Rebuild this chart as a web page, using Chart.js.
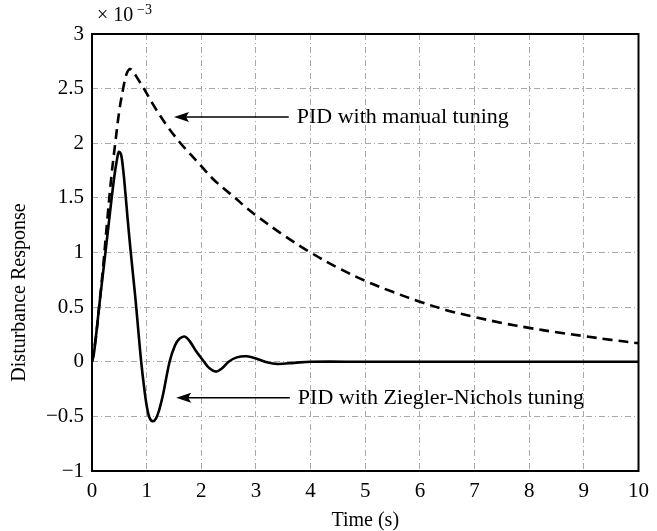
<!DOCTYPE html>
<html>
<head>
<meta charset="utf-8">
<script src="https://cdn.jsdelivr.net/npm/chart.js@4/dist/chart.umd.min.js"></script>
<style>
  html, body { margin: 0; padding: 0; background: #fff; }
  canvas { display: block; }
</style>
</head>
<body>
<canvas id="chart" width="657" height="531"></canvas>
<script>
// Disturbance response (x 10^-3)

// PID with Ziegler-Nichols tuning (solid)
const znTime = [0, 0.03, 0.07, 0.13, 0.19, 0.25, 0.31, 0.36, 0.41, 0.45, 0.49, 0.53, 0.57, 0.61, 0.65, 0.7, 0.75, 0.8, 0.85, 0.9,
  0.95, 1.0, 1.05, 1.11, 1.17, 1.23, 1.3, 1.42, 1.52, 1.6, 1.7, 1.8, 1.9, 2.05, 2.15, 2.27, 2.38, 2.5, 2.65, 2.83, 3.0,
  3.2, 3.4, 3.7, 4.0, 5, 6, 7, 8, 9, 10];
const znValue = [0, 0.06, 0.22, 0.5, 0.76, 1.02, 1.28, 1.5, 1.7, 1.83, 1.92, 1.9, 1.76, 1.55, 1.32, 1.05, 0.8, 0.55, 0.27, 0.0,
  -0.22, -0.4, -0.51, -0.545, -0.52, -0.44, -0.3, 0.0, 0.15, 0.21, 0.23, 0.18, 0.1, 0.0, -0.06, -0.09, -0.06, 0.0, 0.04, 0.05, 0.03,
  -0.005, -0.02, -0.01, 0.0, 0, 0, 0, 0, 0, 0];

// PID with manual tuning (dashed)
const manualTime = [0, 0.07, 0.13, 0.2, 0.28, 0.36, 0.43, 0.5, 0.57, 0.63, 0.69, 0.76, 0.85, 0.95, 1.1, 1.25, 1.4, 1.62, 1.8,
  2.0, 2.2, 2.4, 2.62, 2.8, 3.0, 3.5, 4.0, 4.5, 5.0, 5.5, 6.0, 6.5, 7.0, 7.5, 8.0, 8.5, 9.0, 9.5, 10];
const manualValue = [0, 0.22, 0.5, 0.85, 1.3, 1.72, 2.02, 2.3, 2.5, 2.63, 2.68, 2.65, 2.58, 2.5, 2.37, 2.25, 2.14, 2.0, 1.9,
  1.79, 1.68, 1.59, 1.5, 1.42, 1.34, 1.16, 1.0, 0.86, 0.74, 0.64, 0.55, 0.47, 0.41, 0.355, 0.31, 0.27, 0.235, 0.2, 0.17];

const xTicks = [0, 1, 2, 3, 4, 5, 6, 7, 8, 9, 10];
const yTicks = [-1, -0.5, 0, 0.5, 1, 1.5, 2, 2.5, 3];

// text arrows: tip (t, y), tail t, label
const arrowNotes = [
  { tipT: 1.5, tipY: 2.24, tailT: 3.6, text: "PID with manual tuning" },
  { tipT: 1.54, tipY: -0.33, tailT: 3.62, text: "PID with Ziegler-Nichols tuning" }
];

const serif = "'Liberation Serif', 'DejaVu Serif', serif";

const toPoints = (xs, ys) => xs.map((x, i) => ({ x: x, y: ys[i] }));
const minus = (v) => String(v).replace("-", "\u2212");

const decorations = {
  id: "decorations",
  afterDraw(chart) {
    const ctx = chart.ctx;
    const area = chart.chartArea;
    const xs = chart.scales.x;
    const ys = chart.scales.y;
    ctx.save();

    // box round the plot
    ctx.strokeStyle = "#000";
    ctx.lineWidth = 2;
    ctx.strokeRect(area.left, area.top, area.right - area.left, area.bottom - area.top);

    // arrows with labels
    ctx.fillStyle = "#000";
    ctx.lineWidth = 1.6;
    ctx.font = "22px " + serif;
    ctx.textBaseline = "middle";
    ctx.textAlign = "left";
    arrowNotes.forEach(n => {
      const x0 = xs.getPixelForValue(n.tipT);
      const y0 = ys.getPixelForValue(n.tipY);
      const x1 = xs.getPixelForValue(n.tailT);
      ctx.beginPath();
      ctx.moveTo(x0 + 10, y0);
      ctx.lineTo(x1, y0);
      ctx.stroke();
      ctx.beginPath();
      ctx.moveTo(x0, y0);
      ctx.lineTo(x0 + 15, y0 - 5);
      ctx.lineTo(x0 + 12, y0);
      ctx.lineTo(x0 + 15, y0 + 5);
      ctx.closePath();
      ctx.fill();
      ctx.fillText(n.text, x1 + 8, y0);
    });

    // axis titles
    ctx.font = "20px " + serif;
    ctx.textAlign = "center";
    ctx.fillText("Time (s)", (area.left + area.right) / 2, 521);
    ctx.save();
    ctx.translate(20, (area.top + area.bottom) / 2 + 40);
    ctx.rotate(-Math.PI / 2);
    ctx.fillText("Disturbance Response", 0, 0);
    ctx.restore();

    // exponent
    ctx.textAlign = "left";
    ctx.font = "20px " + serif;
    ctx.fillText("\u00d7 10", 97, 16);
    ctx.font = "14px " + serif;
    ctx.fillText("\u22123", 137, 10);

    ctx.restore();
  }
};

new Chart(document.getElementById("chart"), {
  type: "line",
  data: {
    datasets: [
      {
        label: "PID with manual tuning",
        data: toPoints(manualTime, manualValue),
        borderColor: "#000",
        borderWidth: 2.6,
        borderDash: [10, 6],
        pointRadius: 0,
        tension: 0.35,
        fill: false
      },
      {
        label: "PID with Ziegler-Nichols tuning",
        data: toPoints(znTime, znValue),
        borderColor: "#000",
        borderWidth: 2.6,
        pointRadius: 0,
        tension: 0.35,
        fill: false
      }
    ]
  },
  options: {
    responsive: false,
    animation: false,
    layout: { padding: { top: 34, right: 13, left: 0, bottom: 0 } },
    plugins: {
      legend: { display: false },
      tooltip: { enabled: false }
    },
    scales: {
      x: {
        type: "linear",
        min: 0,
        max: 10,
        afterBuildTicks: (s) => { s.ticks = xTicks.map(v => ({ value: v })); },
        afterFit: (s) => { s.height = 60; },
        grid: { color: "#aaaaaa", lineWidth: 1, drawTicks: false },
        border: { display: false, dash: [6, 3, 1, 3] },
        ticks: {
          color: "#000",
          padding: 8,
          maxRotation: 0,
          font: { family: serif, size: 21 },
          callback: (v) => minus(v)
        }
      },
      y: {
        min: -1,
        max: 3,
        afterBuildTicks: (s) => { s.ticks = yTicks.map(v => ({ value: v })); },
        afterFit: (s) => { s.width = 92; },
        grid: { color: "#aaaaaa", lineWidth: 1, drawTicks: false },
        border: { display: false, dash: [6, 3, 1, 3] },
        ticks: {
          color: "#000",
          padding: 8,
          font: { family: serif, size: 21 },
          callback: (v) => minus(v)
        }
      }
    }
  },
  plugins: [decorations]
});
</script>
</body>
</html>
